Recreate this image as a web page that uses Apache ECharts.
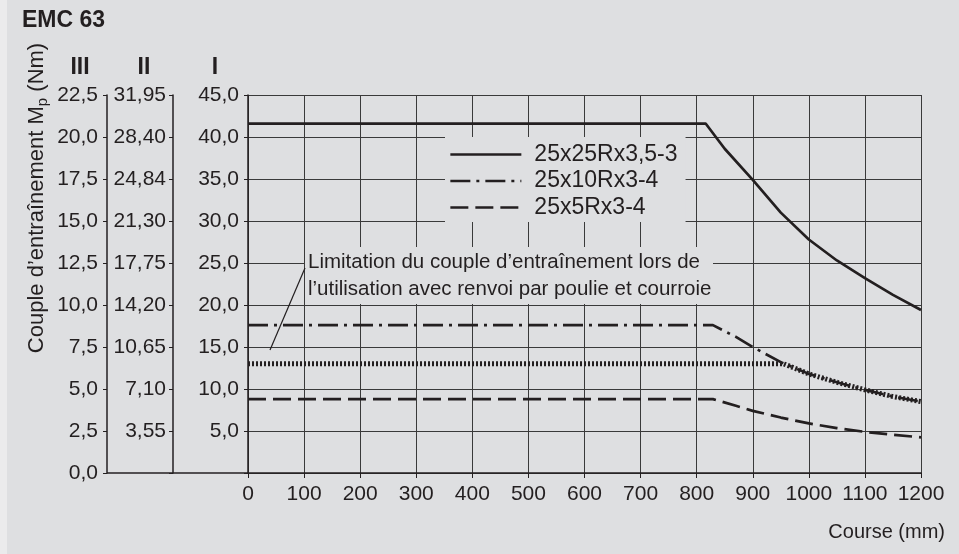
<!DOCTYPE html>
<html>
<head>
<meta charset="utf-8">
<script src="https://cdn.jsdelivr.net/npm/echarts@6/dist/echarts.min.js"></script>
<style>
html,body{margin:0;padding:0;background:#dedfe1;}
#chart{width:959px;height:554px;}
</style>
</head>
<body>
<div id="chart"></div>
<script>
// ---- data ----
const titleText = 'EMC 63';
const seriesNames = ['25x25Rx3,5-3', '25x10Rx3-4', '25x5Rx3-4'];
const xTicks = [0, 100, 200, 300, 400, 500, 600, 700, 800, 900, 1000, 1100, 1200];
const axisILabels = ['', '5,0', '10,0', '15,0', '20,0', '25,0', '30,0', '35,0', '40,0', '45,0'];
const axisIILabels = ['', '3,55', '7,10', '10,65', '14,20', '17,75', '21,30', '24,84', '28,40', '31,95'];
const axisIIILabels = ['0,0', '2,5', '5,0', '7,5', '10,0', '12,5', '15,0', '17,5', '20,0', '22,5'];

const solidX = [0, 816, 850, 900, 950, 1000, 1050, 1100, 1150, 1200];
const solidY = [41.6, 41.6, 38.6, 34.9, 31.0, 27.8, 25.3, 23.2, 21.2, 19.4];

const dashDotX = [0, 829, 870, 900, 950, 1000, 1050, 1100, 1150, 1200];
const dashDotY = [17.6, 17.6, 16.2, 15.0, 13.2, 11.8, 10.8, 9.9, 9.1, 8.5];

const dashedX = [0, 829, 870, 900, 950, 1000, 1050, 1100, 1150, 1200];
const dashedY = [8.8, 8.8, 8.0, 7.4, 6.6, 5.9, 5.35, 4.9, 4.55, 4.25];

const limitX = [0, 955, 1000, 1050, 1100, 1150, 1200];
const limitY = [13.0, 13.0, 11.8, 10.8, 9.9, 9.1, 8.5];

const yAxisTitle = ['Couple d’entraînement M', 'p', ' (Nm)'];
const xAxisTitle = 'Course (mm)';
const romanLabels = ['III', 'II', 'I'];
const noteLines = ['Limitation du couple d’entraînement lors de', 'l’utilisation avec renvoi par poulie et courroie'];

// ---- helpers ----
const pair = (xs, ys) => xs.map((x, i) => [x, ys[i]]);
const FONT = '"Liberation Sans", Arial, Helvetica, sans-serif';
const INK = '#231f20';
const BG = '#dedfe1';

const chart = echarts.init(document.getElementById('chart'), null, {renderer: 'canvas'});

function labelFrom(arr) {
  return v => { const i = Math.round(v / 5); return arr[i] !== undefined ? arr[i] : ''; };
}

function yAxisDef(offset, labels, split, margin) {
  return {
    type: 'value', min: 0, max: 45, interval: 5, position: 'left', offset: offset,
    axisLine: {show: true, lineStyle: {color: INK, width: 1.5}},
    axisTick: {show: true, length: 4, lineStyle: {color: INK, width: 1}},
    axisLabel: {formatter: labelFrom(labels), color: INK, fontSize: 21, fontFamily: FONT, margin: margin},
    splitLine: {show: split, lineStyle: {color: '#3a3a3a', width: 1}}
  };
}

const lineW = 2.7;

const option = {
  backgroundColor: BG,
  animation: false,
  title: {
    text: titleText, left: 22, top: 9, padding: 0,
    textStyle: {fontSize: 23, fontWeight: 'bold', color: INK, fontFamily: FONT}
  },
  grid: {left: 248, right: 38, top: 95, bottom: 81, containLabel: false},
  xAxis: {
    type: 'value', min: 0, max: 1200, interval: 100,
    axisLine: {show: true, lineStyle: {color: INK, width: 1.5}},
    axisTick: {show: true, length: 5, lineStyle: {color: INK, width: 1}},
    axisLabel: {color: INK, fontSize: 21, fontFamily: FONT, margin: 11, formatter: v => String(v)},
    splitLine: {show: true, lineStyle: {color: '#3a3a3a', width: 1}}
  },
  yAxis: [
    yAxisDef(0, axisILabels, true, 9),
    yAxisDef(75, axisIILabels, false, 7),
    yAxisDef(141, axisIIILabels, false, 9)
  ],
  legend: {
    orient: 'vertical', left: 445, top: 137,
    padding: [6, 8, 3, 4],
    backgroundColor: BG,
    itemWidth: 71, itemHeight: 14, itemGap: 3.5,
    itemStyle: {opacity: 0},
    lineStyle: {width: 2.7},
    data: seriesNames,
    textStyle: {fontSize: 23, lineHeight: 22, color: INK, fontFamily: FONT, padding: [0, 0, 0, 8]}
  },
  series: [
    {name: seriesNames[0], type: 'line', data: pair(solidX, solidY), showSymbol: false, symbol: 'none',
     lineStyle: {color: INK, width: lineW, type: 'solid'}, itemStyle: {color: INK}, z: 3},
    {name: seriesNames[1], type: 'line', data: pair(dashDotX, dashDotY), showSymbol: false, symbol: 'none',
     lineStyle: {color: INK, width: lineW, type: [20, 6, 3, 6]}, itemStyle: {color: INK}, z: 3},
    {name: seriesNames[2], type: 'line', data: pair(dashedX, dashedY), showSymbol: false, symbol: 'none',
     lineStyle: {color: INK, width: lineW, type: [18, 7]}, itemStyle: {color: INK}, z: 3},
    {name: 'limit', type: 'line', data: pair(limitX, limitY), showSymbol: false, symbol: 'none',
     lineStyle: {color: INK, width: 5, type: [2, 2]}, itemStyle: {color: INK}, z: 4}
  ],
  graphic: [
    {type: 'rect', left: 0, top: 0, shape: {x: 0, y: 0, width: 7, height: 554}, style: {fill: '#ebebec'}, silent: true, z: -1},
    {type: 'line', shape: {x1: 107, y1: 473, x2: 248, y2: 473}, style: {stroke: INK, lineWidth: 1.5}, z: 5},
    {type: 'text', x: 80, y: 68, style: {text: romanLabels[0], font: 'bold 23px ' + FONT, fill: INK, align: 'center', verticalAlign: 'middle'}},
    {type: 'text', x: 144, y: 68, style: {text: romanLabels[1], font: 'bold 23px ' + FONT, fill: INK, align: 'center', verticalAlign: 'middle'}},
    {type: 'text', x: 215, y: 68, style: {text: romanLabels[2], font: 'bold 23px ' + FONT, fill: INK, align: 'center', verticalAlign: 'middle'}},
    {type: 'text', x: 37, y: 198, rotation: Math.PI / 2,
     style: {
       text: '{a|' + yAxisTitle[0] + '}{s|' + yAxisTitle[1] + '}{a|' + yAxisTitle[2] + '}',
       align: 'center', verticalAlign: 'middle', fill: INK,
       rich: {
         a: {fontSize: 22, fontFamily: FONT, color: INK, lineHeight: 27, verticalAlign: 'middle'},
         s: {fontSize: 15, fontFamily: FONT, color: INK, lineHeight: 27, verticalAlign: 'bottom'}
       }
     }},
    {type: 'text', x: 945, y: 532, style: {text: xAxisTitle, font: '20px ' + FONT, fill: INK, align: 'right', verticalAlign: 'middle'}},
    {type: 'rect', shape: {x: 305, y: 247, width: 408, height: 57}, style: {fill: BG}, z: 5},
    {type: 'text', x: 308, y: 262, style: {text: noteLines[0], font: '20.5px ' + FONT, fill: INK, align: 'left', verticalAlign: 'middle'}, z: 6},
    {type: 'text', x: 308, y: 289, style: {text: noteLines[1], font: '20.5px ' + FONT, fill: INK, align: 'left', verticalAlign: 'middle'}, z: 6},
    {type: 'line', shape: {x1: 305, y1: 268, x2: 270, y2: 350}, style: {stroke: INK, lineWidth: 1.2}, z: 6}
  ]
};
chart.setOption(option);
</script>
</body>
</html>
